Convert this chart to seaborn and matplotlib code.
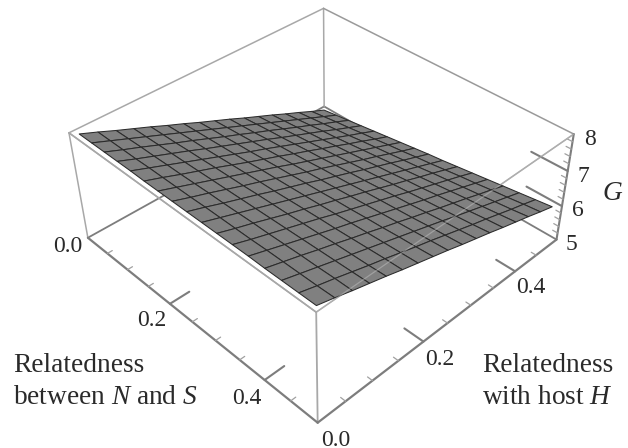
import matplotlib
matplotlib.use("Agg")
import matplotlib.pyplot as plt
import numpy as np
import seaborn as sns

sns.set_theme(style="white")
plt.rcParams["font.family"] = ["Liberation Serif", "DejaVu Serif"]
plt.rcParams["mathtext.fontset"] = "custom"
plt.rcParams["mathtext.rm"] = "Liberation Serif"
plt.rcParams["mathtext.it"] = "Liberation Serif:italic"

# Axis ranges and ticks
ns_range = [0.0, 0.5]
host_range = [0.0, 0.5]
g_range = [5, 8]
ns_major = [0.2, 0.4]
host_major = [0.2, 0.4]
g_major = [6, 7]
ns_minor = [0.05, 0.10, 0.15, 0.25, 0.30, 0.35, 0.45]
host_minor = [0.05, 0.10, 0.15, 0.25, 0.30, 0.35, 0.45]
g_minor = [5.2, 5.4, 5.6, 5.8, 6.2, 6.4, 6.6, 6.8, 7.2, 7.4, 7.6, 7.8]

# Surface nodes
ns_nodes = [0.01, 0.04, 0.07, 0.10, 0.13, 0.16, 0.19, 0.22, 0.25, 0.28, 0.31, 0.34, 0.37, 0.40, 0.43, 0.46, 0.49]
host_nodes = [0.01, 0.04, 0.07, 0.10, 0.13, 0.16, 0.19, 0.22, 0.25, 0.28, 0.31, 0.34, 0.37, 0.40, 0.43, 0.46, 0.49]
G_rows = [
    [7.97,7.97,7.97,7.97,7.97,7.96,7.96,7.96,7.96,7.96,7.96,7.96,7.96,7.95,7.95,7.95,7.95],
    [7.79,7.79,7.79,7.79,7.80,7.80,7.80,7.80,7.81,7.81,7.81,7.81,7.82,7.82,7.82,7.82,7.83],
    [7.60,7.61,7.62,7.62,7.63,7.63,7.64,7.65,7.65,7.66,7.67,7.67,7.68,7.69,7.69,7.70,7.70],
    [7.42,7.43,7.44,7.45,7.46,7.47,7.48,7.49,7.50,7.51,7.52,7.53,7.54,7.55,7.56,7.57,7.58],
    [7.24,7.25,7.26,7.28,7.29,7.31,7.32,7.33,7.35,7.36,7.37,7.39,7.40,7.42,7.43,7.44,7.46],
    [7.05,7.07,7.09,7.10,7.12,7.14,7.16,7.18,7.19,7.21,7.23,7.25,7.26,7.28,7.30,7.32,7.33],
    [6.87,6.89,6.91,6.93,6.95,6.97,7.00,7.02,7.04,7.06,7.08,7.10,7.13,7.15,7.17,7.19,7.21],
    [6.68,6.71,6.73,6.76,6.78,6.81,6.84,6.86,6.89,6.91,6.94,6.96,6.99,7.01,7.04,7.06,7.09],
    [6.50,6.53,6.56,6.59,6.62,6.65,6.67,6.70,6.73,6.76,6.79,6.82,6.85,6.88,6.91,6.94,6.97],
    [6.32,6.35,6.38,6.42,6.45,6.48,6.51,6.55,6.58,6.61,6.65,6.68,6.71,6.74,6.78,6.81,6.84],
    [6.13,6.17,6.21,6.24,6.28,6.32,6.35,6.39,6.43,6.46,6.50,6.54,6.57,6.61,6.65,6.68,6.72],
    [5.95,5.99,6.03,6.07,6.11,6.15,6.19,6.23,6.27,6.31,6.35,6.39,6.43,6.47,6.51,6.55,6.60],
    [5.77,5.81,5.85,5.90,5.94,5.99,6.03,6.07,6.12,6.16,6.21,6.25,6.30,6.34,6.38,6.43,6.47],
    [5.58,5.63,5.68,5.73,5.77,5.82,5.87,5.92,5.97,6.01,6.06,6.11,6.16,6.21,6.25,6.30,6.35],
    [5.40,5.45,5.50,5.55,5.60,5.66,5.71,5.76,5.81,5.86,5.92,5.97,6.02,6.07,6.12,6.17,6.23],
    [5.21,5.27,5.33,5.38,5.44,5.49,5.55,5.60,5.66,5.71,5.77,5.83,5.88,5.94,5.99,6.05,6.10],
    [5.03,5.09,5.15,5.21,5.27,5.33,5.39,5.45,5.51,5.56,5.62,5.68,5.74,5.80,5.86,5.92,5.98],
]

W, H = 628, 448
AX, CX, CY = 518, 314, 195
fig = plt.figure(figsize=(W / 100, H / 100), dpi=100, facecolor="white")
ax = fig.add_axes([(CX - AX / 2) / W, (H - CY - AX / 2) / H, AX / W, AX / H],
                  projection="3d", computed_zorder=False)
ax.set_proj_type("persp", focal_length=0.4)
ax.view_init(elev=38.4, azim=-43.9, roll=0.5)
ax.set_box_aspect((1, 1, 0.39), zoom=0.945)
x0, x1 = ns_range
y0, y1 = host_range
z0, z1 = g_range
ax.set_xlim(x0, x1, view_margin=0)
ax.set_ylim(y0, y1, view_margin=0)
ax.set_zlim(z0, z1, view_margin=0)
ax.set_axis_off()
ax.patch.set_alpha(0)

LIGHT = "#a8a8a8"
DARK = "#7d7d7d"

def seg(p, q, color=LIGHT, lw=1.1, z=1, alpha=1.0):
    ax.plot([p[0], q[0]], [p[1], q[1]], [p[2], q[2]], color=color, lw=lw,
            zorder=z, alpha=alpha, clip_on=False, solid_capstyle="round")

# Hidden floor and back edges, below the surface
seg((x0, y0, z0), (x0, y1, z0), DARK, 1.3)
seg((x1, y1, z0), (x0, y1, z0), DARK, 1.3)
seg((x0, y1, z0), (x0, y1, z1), LIGHT, 1.1)
# Top frame
seg((x0, y0, z1), (x0, y1, z1))
seg((x0, y1, z1), (x1, y1, z1), "#9a9a9a")
seg((x0, y0, z1), (x1, y0, z1))
seg((x1, y0, z1), (x1, y1, z1), "#9a9a9a")
# Verticals
seg((x0, y0, z0), (x0, y0, z1))
seg((x1, y1, z0), (x1, y1, z1), DARK, 1.5)

# Surface
X, Y = np.meshgrid(ns_nodes, host_nodes)
Z = np.array(G_rows)
ax.plot_surface(X, Y, Z, rstride=1, cstride=1, color="#808080", shade=False,
                edgecolor="#2b2b2b", linewidth=0.75, antialiased=True, zorder=2)

# Edges in front of the surface
seg((x1, y0, z1), (x1, y1, z1), "#c8c8c8", 0.9, z=3, alpha=0.45)
seg((x0, y0, z1), (x1, y0, z1), LIGHT, 1.1, z=3)
seg((x1, y0, z0), (x1, y0, z1), LIGHT, 1.3, z=3)
seg((x0, y0, z0), (x1, y0, z0), DARK, 1.6, z=3)
seg((x1, y0, z0), (x1, y1, z0), DARK, 1.6, z=3)

# Ticks
for v in ns_major:
    seg((v, y0, z0), (v, y0 + 0.035, z0), DARK, 1.5, z=3)
for v in ns_minor:
    seg((v, y0, z0), (v, y0 + 0.009, z0), "#a0a0a0", 0.9, z=3)
for v in host_major:
    seg((x1, v, z0), (x1 - 0.035, v, z0), DARK, 1.5, z=3)
for v in host_minor:
    seg((x1, v, z0), (x1 - 0.009, v, z0), "#a0a0a0", 0.9, z=3)
for v in g_major:
    seg((x1, y1, v), (x1 - 0.065, y1, v), DARK, 1.5, z=1)
for v in g_minor:
    seg((x1, y1, v), (x1 - 0.009, y1, v), "#a0a0a0", 0.9, z=1)

# Tick labels
TICK = 17
INK = "#2a2a2a"
def label(s, x, y, z, **kw):
    ax.text(x, y, z, s, fontsize=kw.pop("fs", TICK), color=INK, ha="center", va="center",
            clip_on=False, **kw)

label("0.0", x0 - 0.004, y0 - 0.034, z0)
for v in ns_major:
    label(f"{v:.1f}", v + 0.008, y0 - 0.038, z0)
label("0.0", x1 + 0.032, y0, z0 - 0.1)
for v in host_major:
    label(f"{v:.1f}", x1 + 0.03, v, z0 - 0.2)
for v in [5, 6, 7, 8]:
    label(str(v), x1 + 0.017, y1 + 0.017, v - 0.14)

# Axis titles
TITLE = 19.7
fig.text(13 / W, 1 - 365 / H, "Relatedness", fontsize=TITLE, color=INK, ha="left", va="center")
fig.text(13 / W, 1 - 397 / H, r"between $\mathit{N}$ and $\mathit{S}$", fontsize=TITLE, color=INK, ha="left", va="center")
fig.text(613 / W, 1 - 365 / H, "Relatedness", fontsize=TITLE, color=INK, ha="right", va="center")
fig.text(613 / W, 1 - 397 / H, r"with host $\mathit{H}$", fontsize=TITLE, color=INK, ha="right", va="center")
fig.text(612 / W, 1 - 193 / H, "G", fontsize=TITLE, style="italic", color=INK, ha="center", va="center")

fig.savefig("out.png", dpi=100, facecolor="white")
